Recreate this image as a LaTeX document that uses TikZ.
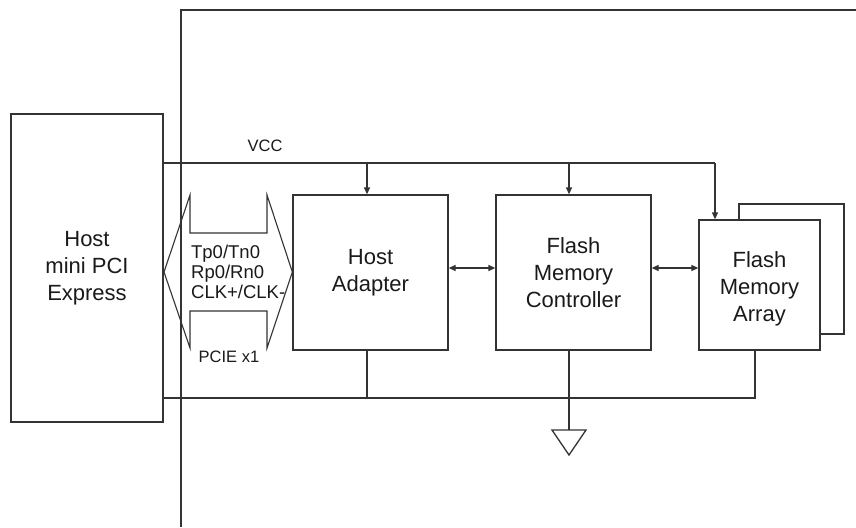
\documentclass[tikz,border=0pt]{standalone}
\usepackage{fontspec}
\setmainfont{Liberation Sans}
\usetikzlibrary{arrows.meta,calc}
\definecolor{ln}{HTML}{333333}
\definecolor{tx}{HTML}{1A1A1A}
\begin{document}
\begin{tikzpicture}[x=1pt,y=-1pt,
  line width=1.3pt,
  every path/.style={draw=ln},
  blktext/.style={inner sep=0pt,align=center,text=tx,font=\fontsize{22}{27}\selectfont},
  blk/.style={draw=ln,fill=white,rectangle,blktext},
  lbl/.style={text=tx,inner sep=0pt,align=left,font=\fontsize{18.5}{20}\selectfont},
  tip/.style={-{Triangle[length=7pt,width=6pt]}},
  dtip/.style={{Triangle[length=7pt,width=6pt]}-{Triangle[length=7pt,width=6pt]}}]
\useasboundingbox[fill=white,draw=none] (0,0) rectangle (856,527);
% frame lines
\draw (181,527) -- (181,10) -- (856,10);
% boxes
\node[blk,minimum width=152pt,minimum height=308pt] (host) at (87,268) {Host\\mini PCI\\Express};
\node[blk,minimum width=155pt,minimum height=155pt] (ha) at (370.5,272.5) {Host\\Adapter};
\node[blk,minimum width=155pt,minimum height=155pt] (fmc) at (573.5,272.5) {Flash\\Memory\\Controller};
\node[draw=ln,fill=white,rectangle,minimum width=105pt,minimum height=130pt,inner sep=0pt] (back) at (791.5,269) {};
\node[blk,minimum width=121pt,minimum height=130pt,
  label={[blktext,yshift=-3.5pt]center:{Flash\\Memory\\Array}}] (fma) at (759.5,285) {};
% VCC rail
\coordinate (v0) at (163,163);
\coordinate (v1) at (367,163);
\coordinate (v2) at (569,163);
\coordinate (v3) at (715,163);
\draw (v0) -- (v3);
\draw[tip] (v1) -- (v1 |- ha.north);
\draw[tip] (v2) -- (v2 |- fmc.north);
\draw[tip] (v3) -- (v3 |- fma.north);
\node[lbl,font=\fontsize{16.5}{20}\selectfont] (vcc) at (265,146) {VCC};
% GND rail
\coordinate (g0) at (163,398);
\coordinate (g1) at (367,398);
\coordinate (g3) at (755,398);
\draw (g0) -- (g3) -- (g3 |- fma.south);
\draw (g1) -- (g1 |- ha.south);
\coordinate (gnd) at (569,430);
\draw (gnd |- fmc.south) -- (gnd);
\draw (552,430) -- (586,430) -- (569,455) -- cycle;
% bidirectional links
\draw[dtip] (ha.east |- 0,268) -- (fmc.west |- 0,268);
\draw[dtip] (fmc.east |- 0,268) -- (fma.west |- 0,268);
% PCIe big arrow
\draw[line width=1.1pt] (164,272) -- (190,195) -- (190,233) -- (267,233) -- (267,195)
  -- (ha.west |- 0,272) -- (267,348) -- (267,311) -- (190,311) -- (190,348) -- cycle;
\node[lbl,anchor=west] (sig) at (190.5,272) {Tp0/Tn0\\Rp0/Rn0\\CLK+/CLK-};
\node[lbl,font=\fontsize{16.5}{20}\selectfont] (pcie) at (229,357) {PCIE x1};
\end{tikzpicture}
\end{document}
